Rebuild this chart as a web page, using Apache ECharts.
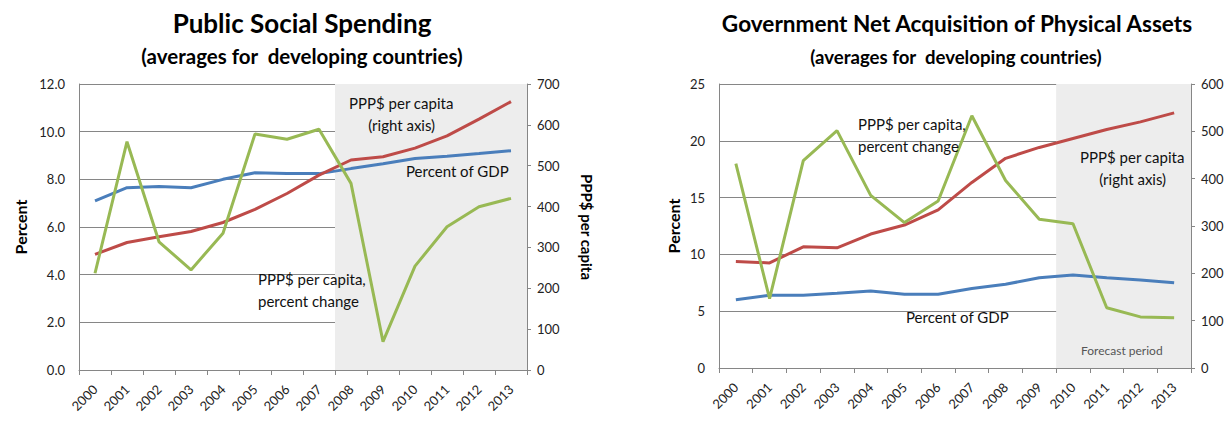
<!DOCTYPE html>
<html>
<head>
<meta charset="utf-8">
<script src="https://cdn.jsdelivr.net/npm/echarts@6/dist/echarts.min.js"></script>
<style>
html,body{margin:0;padding:0;background:#fff;}
#chart{width:1227px;height:422px;}
</style>
</head>
<body>
<div id="chart"></div>
<script>
// ---- data ----
const years = ['2000','2001','2002','2003','2004','2005','2006','2007','2008','2009','2010','2011','2012','2013'];

// Public Social Spending
const socialPctGDP = [7.1, 7.65, 7.7, 7.65, 8.0, 8.28, 8.24, 8.24, 8.45, 8.65, 8.87, 8.97, 9.08, 9.2];
const socialPPP    = [283, 312, 326, 339, 361, 393, 432, 477, 514, 522, 543, 573, 614, 657];
const socialChange = [4.06, 9.58, 5.38, 4.2, 5.74, 9.9, 9.68, 10.1, 7.83, 1.19, 4.36, 6.01, 6.85, 7.2];
const socialForecastStart = '2008';

// Government Net Acquisition of Physical Assets
const assetsPctGDP = [6.0, 6.4, 6.4, 6.57, 6.78, 6.5, 6.5, 7.0, 7.37, 7.95, 8.19, 7.95, 7.75, 7.5];
const assetsPPP    = [225, 222, 256, 254, 283, 302, 334, 392, 443, 466, 485, 504, 520, 539];
const assetsChange = [18.0, 6.1, 18.25, 20.9, 15.2, 12.8, 14.7, 22.2, 16.5, 13.1, 12.7, 5.3, 4.5, 4.43];
const assetsForecastStart = '2010';

const titles = ['Public Social Spending', 'Government Net Acquisition of Physical Assets'];
const subtitle = '(averages for  developing countries)';

// ---- styling ----
const FONT = 'Lato, "Noto Sans", sans-serif';
const BLUE = '#4a7ebb', RED = '#be4b48', GREEN = '#98b954';
const AXIS = '#868686';
const SHADE = '#ededed';

const chart = echarts.init(document.getElementById('chart'), null, {renderer: 'svg'});

function xCat(gi) {
  return {
    type: 'category', gridIndex: gi, data: years, boundaryGap: true,
    axisLine: {lineStyle: {color: AXIS}},
    axisTick: {show: true, length: 5, lineStyle: {color: AXIS}},
    axisLabel: {rotate: 45, fontSize: 13, color: '#222', fontFamily: FONT, margin: 17},
    splitLine: {show: false}
  };
}
function xHidden(gi) {
  return {type: 'value', gridIndex: gi, min: 0, max: years.length, show: false};
}
function yLeft(gi, max, interval, decimals) {
  return {
    type: 'value', gridIndex: gi, position: 'left', min: 0, max: max, interval: interval,
    name: 'Percent', nameLocation: 'middle', nameRotate: 90, nameGap: decimals ? 51 : 38,
    nameTextStyle: {fontSize: 16, fontWeight: 'bold', color: '#000', fontFamily: FONT},
    axisLine: {show: true, lineStyle: {color: AXIS}},
    axisTick: {show: false},
    axisLabel: {fontSize: 13, color: '#222', fontFamily: FONT, margin: 14,
      formatter: v => decimals ? v.toFixed(decimals) : String(v)},
    splitLine: {show: true, lineStyle: {color: AXIS, width: 1}}
  };
}
function yRight(gi, max, withName) {
  const a = {
    type: 'value', gridIndex: gi, position: 'right', min: 0, max: max, interval: 100,
    axisLine: {show: true, lineStyle: {color: AXIS}},
    axisTick: {show: true, inside: false, length: 4, lineStyle: {color: AXIS}},
    axisLabel: {fontSize: 13, color: '#222', fontFamily: FONT, margin: 10},
    splitLine: {show: false}
  };
  if (withName) {
    a.name = 'PPP$ per capita';
    a.nameLocation = 'middle';
    a.nameRotate = -90;
    a.nameGap = 52;
    a.nameTextStyle = {fontSize: 15, fontWeight: 'bold', color: '#000', fontFamily: FONT};
  }
  return a;
}
function line(name, data, color, xi, yi) {
  return {
    name: name, type: 'line', data: data, xAxisIndex: xi, yAxisIndex: yi,
    symbol: 'none', lineStyle: {color: color, width: 3}, itemStyle: {color: color},
    z: 3, animation: false
  };
}
function shade(xi, yi, startYear) {
  return {
    type: 'line', xAxisIndex: xi, yAxisIndex: yi, data: [], silent: true, z: -1,
    animation: false,
    markArea: {silent: true, itemStyle: {color: SHADE}, label: {show: false},
      data: [[{xAxis: years.indexOf(startYear)}, {xAxis: years.length}]]}
  };
}

const annStyle = {fontSize: 15, fontFamily: FONT, fill: '#111', lineHeight: 22};

const option = {
  backgroundColor: '#fff',
  animation: false,
  title: [
    {text: titles[0], left: 297, top: 5, textAlign: 'center',
      textStyle: {fontSize: 26, fontWeight: 'bold', color: '#000', fontFamily: FONT}},
    {text: subtitle, left: 297, top: 40, textAlign: 'center',
      textStyle: {fontSize: 20.5, fontWeight: 'bold', color: '#000', fontFamily: FONT}},
    {text: titles[1], left: 952, top: 7, textAlign: 'center',
      textStyle: {fontSize: 22.6, fontWeight: 'bold', color: '#000', fontFamily: FONT}},
    {text: subtitle, left: 951, top: 42, textAlign: 'center',
      textStyle: {fontSize: 18.6, fontWeight: 'bold', color: '#000', fontFamily: FONT}}
  ],
  grid: [
    {left: 79, right: 700, top: 84, bottom: 52},
    {left: 719, right: 36, top: 84, bottom: 54}
  ],
  xAxis: [xCat(0), xHidden(0), xCat(1), xHidden(1)],
  yAxis: [yLeft(0, 12, 2, 1), yRight(0, 700, true), yLeft(1, 25, 5, 0), yRight(1, 600, false)],
  series: [
    shade(1, 0, socialForecastStart),
    line('Percent of GDP', socialPctGDP, BLUE, 0, 0),
    line('PPP$ per capita', socialPPP, RED, 0, 1),
    line('PPP$ per capita, percent change', socialChange, GREEN, 0, 0),
    shade(3, 2, assetsForecastStart),
    line('Percent of GDP', assetsPctGDP, BLUE, 2, 2),
    line('PPP$ per capita', assetsPPP, RED, 2, 3),
    line('PPP$ per capita, percent change', assetsChange, GREEN, 2, 2)
  ],
  graphic: [
    {type: 'text', left: 349, top: 92, z: 10, style: Object.assign({text: 'PPP$ per capita\n     (right axis)'}, annStyle)},
    {type: 'text', left: 406, top: 160, z: 10, style: Object.assign({text: 'Percent of GDP'}, annStyle)},
    {type: 'text', left: 258, top: 268, z: 10, style: Object.assign({text: 'PPP$ per capita,\npercent change'}, annStyle)},
    {type: 'text', left: 858, top: 113, z: 10, style: Object.assign({text: 'PPP$ per capita,\npercent change'}, annStyle)},
    {type: 'text', left: 1080, top: 146, z: 10, style: Object.assign({text: 'PPP$ per capita\n     (right axis)'}, annStyle)},
    {type: 'text', left: 906, top: 306, z: 10, style: Object.assign({text: 'Percent of GDP'}, annStyle)},
    {type: 'text', left: 1081, top: 344, z: 10, style: {text: 'Forecast period', fontSize: 12, fontFamily: FONT, fill: '#555'}}
  ]
};
chart.setOption(option);
</script>
</body>
</html>
